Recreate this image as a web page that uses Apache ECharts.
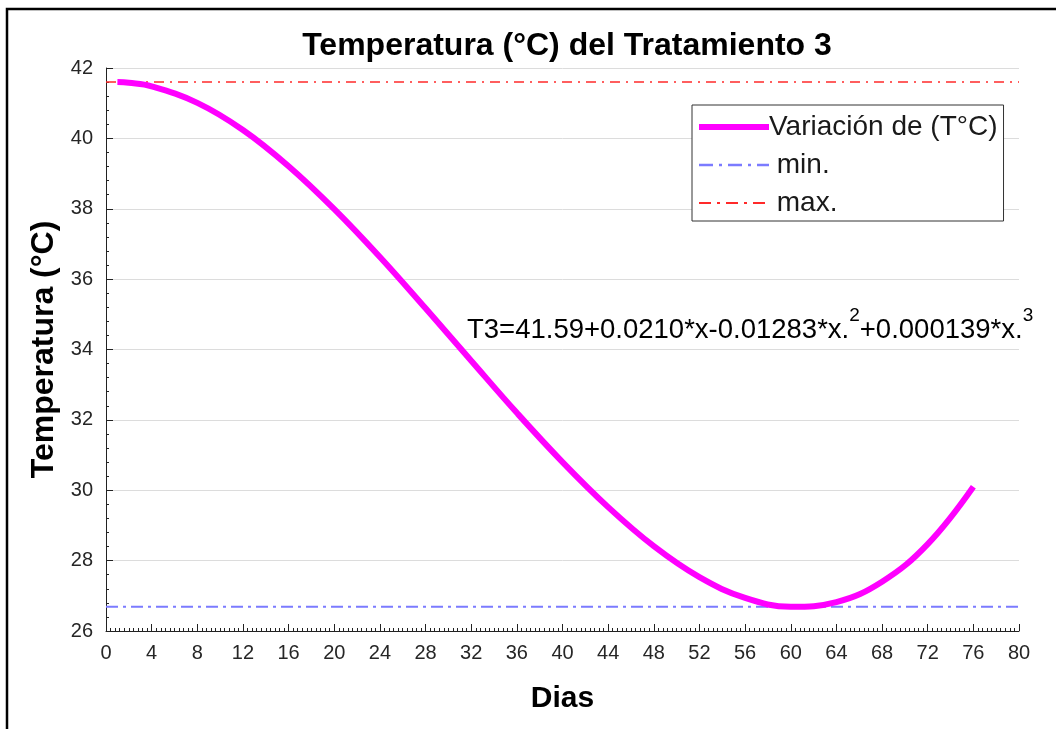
<!DOCTYPE html>
<html>
<head>
<meta charset="utf-8">
<title>Temperatura (°C) del Tratamiento 3</title>
<script src="https://cdn.jsdelivr.net/npm/echarts@6/dist/echarts.min.js"></script>
<style>
  html, body { margin: 0; padding: 0; background: #fff; }
  #chart { width: 1056px; height: 729px; }
</style>
</head>
<body>
<div id="chart"></div>
<script>
// Days sampled along the fitted curve and the temperature at each day
const dias = [1, 2, 4, 8, 12, 16, 20, 24, 28, 32, 36, 40, 44, 48, 52, 56, 60, 64, 68, 72, 76];
const temperatura = [41.60, 41.58, 41.48, 41.01, 40.24, 39.21, 37.99, 36.63, 35.17, 33.68, 32.20,
                     30.80, 29.52, 28.41, 27.53, 26.94, 26.69, 26.82, 27.40, 28.47, 30.10];

// Reference levels
const tMin = 26.69;
const tMax = 41.60;

// Axis ranges
const xRange = [0, 80];
const yRange = [26, 42];

// Series names shown in the legend
const nombres = ['Variación de (T°C)', ' min.', ' max.'];

const FONT = 'Liberation Sans';
const COLORS = { curva: '#ff00ff', min: '#7b7bff', max: '#ff2a2a' };

const chart = echarts.init(document.getElementById('chart'), null, { renderer: 'canvas' });

const curva = dias.map((d, i) => [d, temperatura[i]]);
const lineaMin = xRange.map(x => [x, tMin]);
const lineaMax = xRange.map(x => [x, tMax]);

const minStyle = { color: COLORS.min, width: 2, type: [12, 5, 3, 5] };
const maxStyle = { color: COLORS.max, width: 1.5, type: [10, 6, 2, 6] };

chart.setOption({
  backgroundColor: '#ffffff',
  animation: false,
  title: {
    text: 'Temperatura (°C) del Tratamiento 3',
    left: 562,
    textAlign: 'center',
    top: 25,
    textStyle: { fontFamily: FONT, fontSize: 32, fontWeight: 'bold', color: '#000' }
  },
  grid: { left: 106, right: 37, top: 68, bottom: 98, containLabel: false },
  legend: {
    orient: 'vertical',
    left: 692,
    top: 105,
    data: [
      { name: nombres[0], lineStyle: { width: 6, color: COLORS.curva } },
      { name: nombres[1], lineStyle: { width: 2.5, color: COLORS.min, type: [14, 6, 3, 6] } },
      { name: nombres[2], lineStyle: { width: 2, color: COLORS.max, type: [12, 6, 3, 6] } }
    ],
    itemStyle: { opacity: 0 },
    backgroundColor: '#fff',
    borderColor: '#333',
    borderWidth: 1,
    borderRadius: 0,
    padding: [7, 6, 3, 4],
    itemWidth: 70,
    itemHeight: 14,
    itemGap: 8,
    textStyle: { fontFamily: FONT, fontSize: 28, lineHeight: 30, color: '#1a1a1a', padding: [0, 0, 0, -5] }
  },
  xAxis: {
    type: 'value',
    min: xRange[0],
    max: xRange[1],
    interval: 4,
    name: 'Dias',
    nameLocation: 'middle',
    nameGap: 53,
    nameTextStyle: { fontFamily: FONT, fontSize: 30, fontWeight: 'bold', color: '#000' },
    axisLine: { show: true, lineStyle: { color: '#222', width: 1 } },
    axisTick: { show: true, inside: true, length: 7, lineStyle: { color: '#222' } },
    minorTick: { show: true, splitNumber: 10, length: 3, lineStyle: { color: '#222' } },
    axisLabel: { fontFamily: FONT, fontSize: 20, color: '#262626', margin: 12 },
    splitLine: { show: false }
  },
  yAxis: {
    type: 'value',
    min: yRange[0],
    max: yRange[1],
    interval: 2,
    name: 'Temperatura (°C)',
    nameLocation: 'middle',
    nameGap: 40,
    nameRotate: 90,
    nameTextStyle: { fontFamily: FONT, fontSize: 32, fontWeight: 'bold', color: '#000' },
    axisLine: { show: true, lineStyle: { color: '#222', width: 1 } },
    axisTick: { show: true, inside: true, length: 7, lineStyle: { color: '#222' } },
    minorTick: { show: true, splitNumber: 5, length: 3, lineStyle: { color: '#222' } },
    axisLabel: { fontFamily: FONT, fontSize: 20, color: '#262626', margin: 13 },
    splitLine: { show: true, lineStyle: { color: '#dcdcdc', width: 1 } }
  },
  series: [
    {
      name: nombres[0],
      type: 'line',
      data: curva,
      smooth: 0.4,
      symbol: 'none',
      lineStyle: { color: COLORS.curva, width: 6 },
      itemStyle: { color: COLORS.curva },
      z: 3
    },
    {
      name: nombres[1],
      type: 'line',
      data: lineaMin,
      symbol: 'none',
      lineStyle: minStyle,
      itemStyle: { color: COLORS.min },
      z: 2
    },
    {
      name: nombres[2],
      type: 'line',
      data: lineaMax,
      symbol: 'none',
      lineStyle: maxStyle,
      itemStyle: { color: COLORS.max },
      z: 2
    }
  ],
  graphic: [
    // fitted equation
    {
      type: 'text',
      left: 467,
      top: 306,
      z: 10,
      style: {
        text: '{a|T3=41.59+0.0210*x-0.01283*x.}{s|2}{a|+0.000139*x.}{s|3}',
        rich: {
          a: { fontFamily: FONT, fontSize: 27.5, color: '#111', lineHeight: 38, verticalAlign: 'bottom' },
          s: { fontFamily: FONT, fontSize: 19, color: '#111', lineHeight: 38, verticalAlign: 'top' }
        }
      }
    },
    // page frame
    {
      type: 'polyline',
      z: 20,
      shape: { points: [[7, 729], [7, 9], [1056, 9]] },
      style: { stroke: '#000', lineWidth: 2.5, fill: null }
    }
  ]
});
</script>
</body>
</html>
